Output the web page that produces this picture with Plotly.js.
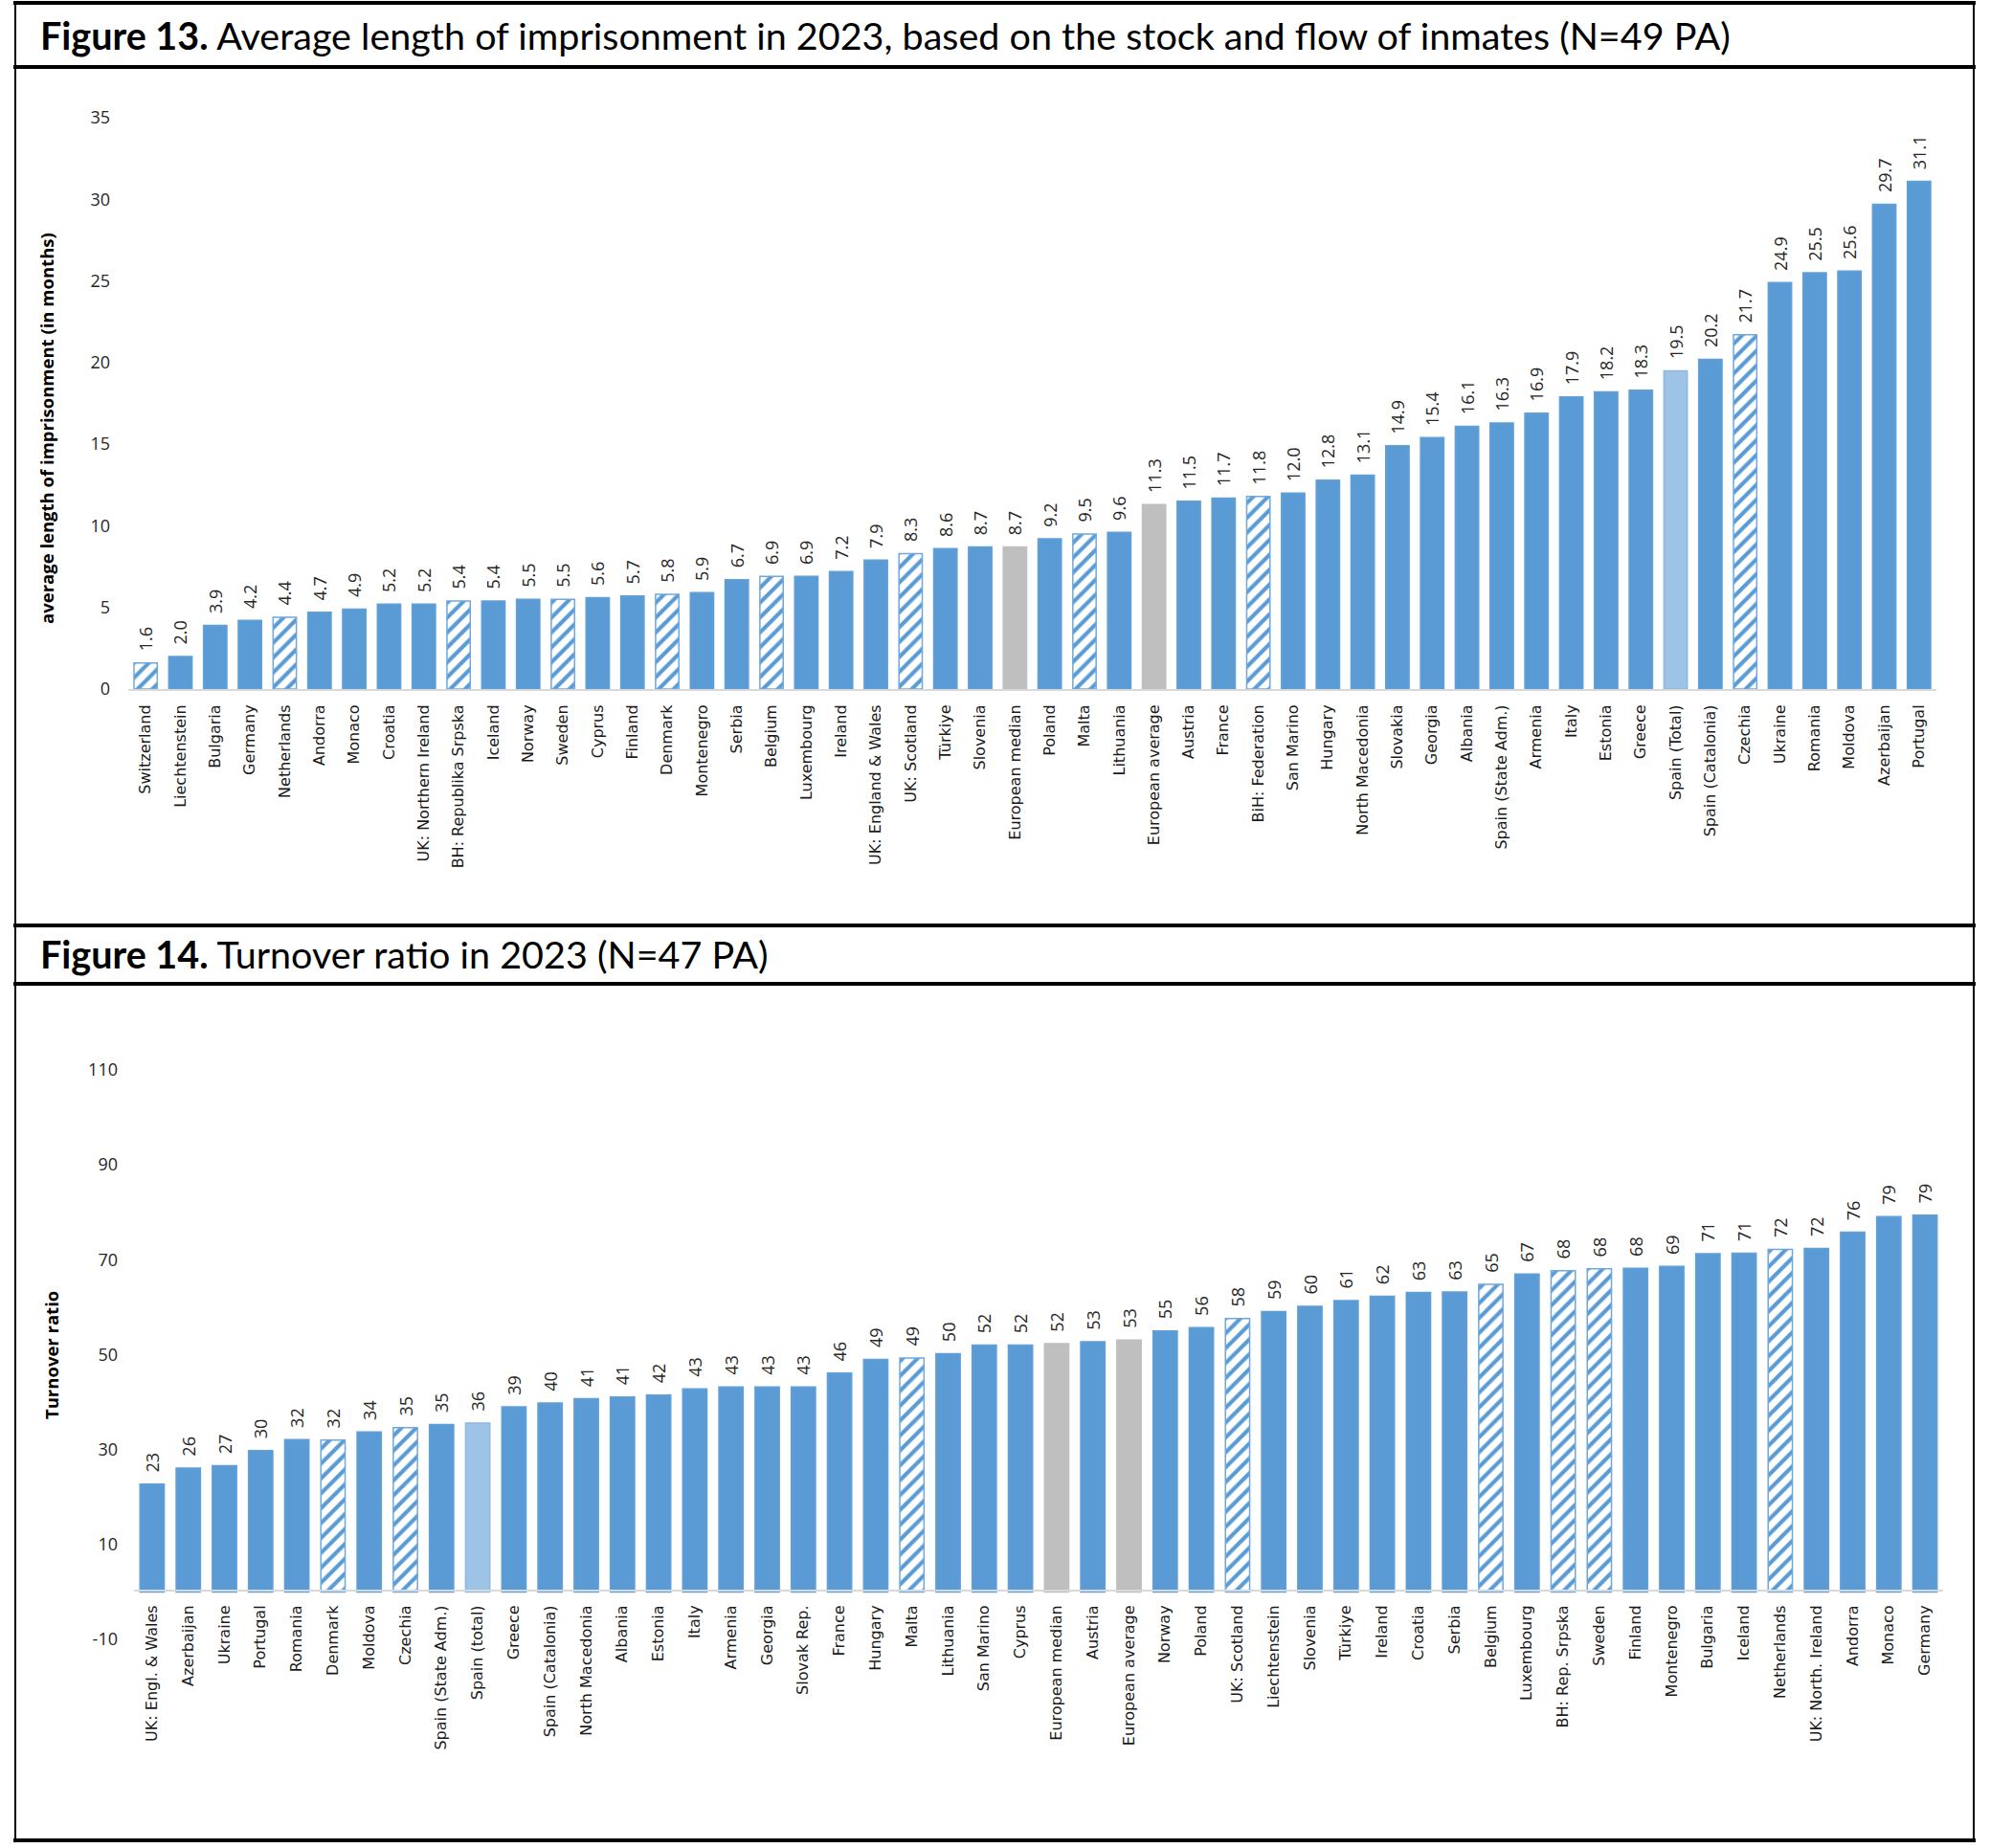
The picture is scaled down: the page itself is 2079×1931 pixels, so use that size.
<!DOCTYPE html>
<html>
<head>
<meta charset="utf-8">
<script src="https://cdn.plot.ly/plotly-3.0.1.min.js"></script>
<style>html,body{margin:0;padding:0;background:#fff;}#chart{width:2079px;height:1931px;}</style>
</head>
<body>
<div id="chart"></div>
<script>
// ---------- Figure 13 data ----------
const categories13 = ["Switzerland","Liechtenstein","Bulgaria","Germany","Netherlands","Andorra","Monaco","Croatia","UK: Northern Ireland","BH: Republika Srpska","Iceland","Norway","Sweden","Cyprus","Finland","Denmark","Montenegro","Serbia","Belgium","Luxembourg","Ireland","UK: England & Wales","UK: Scotland","Türkiye","Slovenia","European median","Poland","Malta","Lithuania","European average","Austria","France","BiH: Federation","San Marino","Hungary","North Macedonia","Slovakia","Georgia","Albania","Spain (State Adm.)","Armenia","Italy","Estonia","Greece","Spain (Total)","Spain (Catalonia)","Czechia","Ukraine","Romania","Moldova","Azerbaijan","Portugal"];
const values13 = [1.6,2.0,3.9,4.2,4.4,4.7,4.9,5.2,5.2,5.4,5.4,5.5,5.5,5.6,5.7,5.8,5.9,6.7,6.9,6.9,7.2,7.9,8.3,8.6,8.7,8.7,9.2,9.5,9.6,11.3,11.5,11.7,11.8,12.0,12.8,13.1,14.9,15.4,16.1,16.3,16.9,17.9,18.2,18.3,19.5,20.2,21.7,24.9,25.5,25.6,29.7,31.1];
const hatched13 = ["Switzerland","Netherlands","BH: Republika Srpska","Sweden","Denmark","Belgium","UK: Scotland","Malta","BiH: Federation","Czechia"];
const grey13 = ["European median","European average"];
const light13 = ["Spain (Total)"];

// ---------- Figure 14 data ----------
const categories14 = ["UK: Engl. & Wales","Azerbaijan","Ukraine","Portugal","Romania","Denmark","Moldova","Czechia","Spain (State Adm.)","Spain (total)","Greece","Spain (Catalonia)","North Macedonia","Albania","Estonia","Italy","Armenia","Georgia","Slovak Rep.","France","Hungary","Malta","Lithuania","San Marino","Cyprus","European median","Austria","European average","Norway","Poland","UK: Scotland","Liechtenstein","Slovenia","Türkiye","Ireland","Croatia","Serbia","Belgium","Luxembourg","BH: Rep. Srpska","Sweden","Finland","Montenegro","Bulgaria","Iceland","Netherlands","UK: North. Ireland","Andorra","Monaco","Germany"];
const values14 = [22.7,26.1,26.6,29.8,32.1,32.0,33.7,34.6,35.3,35.6,39.0,39.8,40.7,41.1,41.5,42.8,43.2,43.2,43.2,46.1,49.0,49.3,50.2,52.0,52.0,52.3,52.7,53.1,55.0,55.7,57.6,59.1,60.2,61.4,62.3,63.1,63.2,64.8,67.0,67.7,68.1,68.2,68.6,71.3,71.4,72.2,72.4,75.8,79.1,79.4];
const hatched14 = ["Denmark","Czechia","Malta","UK: Scotland","Belgium","BH: Rep. Srpska","Sweden","Netherlands"];
const grey14 = ["European median","European average"];
const light14 = ["Spain (total)"];
const tickVals14 = [-10, 10, 30, 50, 70, 90, 110];
const tickText14 = ["-10", "10", "30", "50", "70", "90", "110"];

const yTitle13 = "average length of imprisonment (in months)";
const yTitle14 = "Turnover ratio";
const title13 = "<b>Figure 13.</b> Average length of imprisonment in 2023, based on the stock and flow of inmates (N=49 PA)";
const title14 = "<b>Figure 14.</b> Turnover ratio in 2023 (N=47 PA)";

// ---------- styling ----------
const BLUE = "#5B9BD5", GREY = "#BFBFBF", LIGHT = "#9DC3E6";
const W = 2079, H = 1931;
const px = x => x / W;
const py = y => 1 - y / H;

function styleFor(cats, hatched, grey, light) {
  const color = [], shape = [], line = [];
  cats.forEach(c => {
    if (hatched.includes(c)) { color.push(BLUE); shape.push("/"); line.push("#6FA8DC"); }
    else if (grey.includes(c)) { color.push(GREY); shape.push(""); line.push(GREY); }
    else if (light.includes(c)) { color.push(LIGHT); shape.push(""); line.push("#8FB8E0"); }
    else { color.push(BLUE); shape.push(""); line.push("#62A0D8"); }
  });
  return {color, shape, line};
}
const s13 = styleFor(categories13, hatched13, grey13, light13);
const s14 = styleFor(categories14, hatched14, grey14, light14);

const labelFont = {family: "Open Sans", size: 18, color: "#262626"};
const NB = "\u00A0\u00A0";

function makeTrace(cats, vals, st, xa, ya, fmt) {
  return {
    type: "bar", x: cats, y: vals, xaxis: xa, yaxis: ya,
    marker: {color: st.color, line: {color: st.line, width: 1.5},
             pattern: {shape: st.shape, fgcolor: BLUE, fgopacity: 1,
                       size: 11, solidity: 0.38, fillmode: "replace"}},
    texttemplate: NB + "%{y:" + fmt + "}", textposition: "outside", textangle: -90, constraintext: "none",
    cliponaxis: false, textfont: labelFont, hoverinfo: "x+y"
  };
}
const trace13 = makeTrace(categories13, values13, s13, "x", "y", ".1f");
const trace14 = makeTrace(categories14, values14, s14, "x2", "y2", ".0f");

const catFont = {family: "DejaVu Sans", size: 16, color: "#1a1a1a"};
const tickFont = {family: "Open Sans", size: 18, color: "#262626"};

const layout = {
  width: W, height: H, margin: {l: 0, r: 0, t: 0, b: 0},
  paper_bgcolor: "#FFFFFF", plot_bgcolor: "#FFFFFF",
  showlegend: false, bargap: 0.33,
  xaxis: {domain: [px(134), px(2023)], anchor: "y", type: "category", tickangle: -90,
          tickfont: catFont, showline: true, linecolor: "#D9D9D9", linewidth: 2,
          ticks: "", showgrid: false, ticklabelstandoff: 8, automargin: false},
  yaxis: {domain: [py(720), py(123)], anchor: "x", range: [0, 35], dtick: 5, tick0: 0,
          showgrid: false, zeroline: false, showline: false, ticks: "",
          tickfont: tickFont, ticklabelstandoff: 18, automargin: false},
  xaxis2: {domain: [px(140), px(2030)], anchor: "free", position: py(1662), type: "category", tickangle: -90,
           tickfont: catFont, showline: true, linecolor: "#D9D9D9", linewidth: 2,
           ticks: "", showgrid: false, ticklabelstandoff: 8, automargin: false},
  yaxis2: {domain: [py(1713), py(1118)], anchor: "x2", range: [-10, 110],
           tickmode: "array", tickvals: tickVals14, ticktext: tickText14,
           showgrid: false, zeroline: false, showline: false, ticks: "",
           tickfont: tickFont, ticklabelstandoff: 16, automargin: false},
  annotations: [
    {text: title13, xref: "paper", yref: "paper", x: px(40), y: py(36), xanchor: "left", yanchor: "middle",
     showarrow: false, font: {family: "Lato", size: 39.5, color: "#000"}},
    {text: title14, xref: "paper", yref: "paper", x: px(40), y: py(996), xanchor: "left", yanchor: "middle",
     showarrow: false, font: {family: "Lato", size: 39.5, color: "#000"}},
    {text: "<b>" + yTitle13 + "</b>", xref: "paper", yref: "paper", x: px(49), y: py(448), xanchor: "center", yanchor: "middle",
     textangle: -90, showarrow: false, font: {family: "Open Sans", size: 18.5, color: "#000"}},
    {text: "<b>" + yTitle14 + "</b>", xref: "paper", yref: "paper", x: px(53), y: py(1416), xanchor: "center", yanchor: "middle",
     textangle: -90, showarrow: false, font: {family: "Open Sans", size: 18.5, color: "#000"}}
  ],
  shapes: [
    {type: "line", xref: "paper", yref: "paper", x0: px(14), x1: px(2064), y0: py(3), y1: py(3), line: {color: "#000", width: 4}},
    {type: "line", xref: "paper", yref: "paper", x0: px(14), x1: px(2064), y0: py(70), y1: py(70), line: {color: "#000", width: 4}},
    {type: "line", xref: "paper", yref: "paper", x0: px(14), x1: px(2064), y0: py(967), y1: py(967), line: {color: "#000", width: 4}},
    {type: "line", xref: "paper", yref: "paper", x0: px(14), x1: px(2064), y0: py(1028), y1: py(1028), line: {color: "#000", width: 4}},
    {type: "line", xref: "paper", yref: "paper", x0: px(14), x1: px(2064), y0: py(1923), y1: py(1923), line: {color: "#000", width: 4}},
    {type: "line", xref: "paper", yref: "paper", x0: px(16), x1: px(16), y0: py(3), y1: py(1923), line: {color: "#000", width: 2}},
    {type: "line", xref: "paper", yref: "paper", x0: px(2062), x1: px(2062), y0: py(3), y1: py(1923), line: {color: "#000", width: 2}}
  ]
};

Plotly.newPlot("chart", [trace13, trace14], layout, {displayModeBar: false, staticPlot: true});
</script>
</body>
</html>
